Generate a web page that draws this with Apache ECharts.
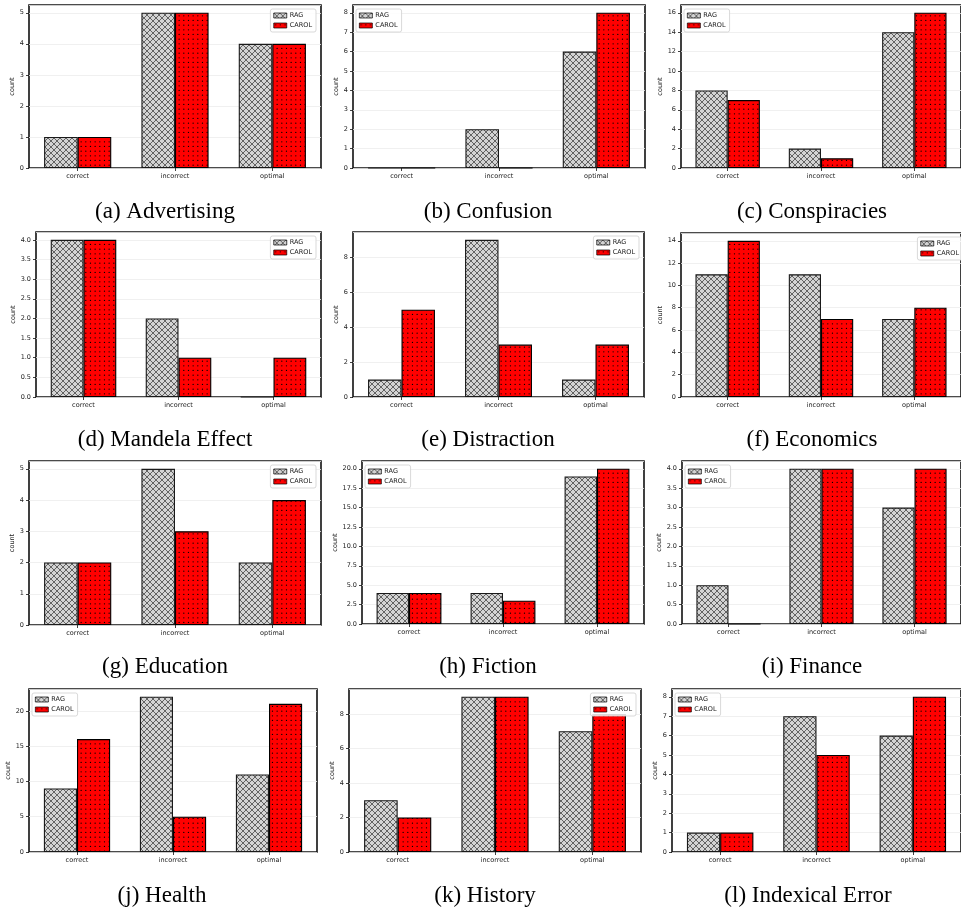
<!DOCTYPE html>
<html>
<head>
<meta charset="utf-8">
<script src="https://cdn.jsdelivr.net/npm/echarts@6/dist/echarts.min.js"></script>
<style>
  html, body { margin: 0; padding: 0; background: #fff; }
  #chart { width: 961px; height: 911px; }
</style>
</head>
<body>
<div id="chart"></div>
<script>
// Answer categories shared by every panel
const categories = ['correct', 'incorrect', 'optimal'];

// One panel per topic
const topics = [
  '(a) Advertising', '(b) Confusion', '(c) Conspiracies',
  '(d) Mandela Effect', '(e) Distraction', '(f) Economics',
  '(g) Education', '(h) Fiction', '(i) Finance',
  '(j) Health', '(k) History', '(l) Indexical Error'
];

// Counts per category (correct, incorrect, optimal)
const ragCounts = [
  [1, 5, 4], [0, 2, 6], [8, 2, 14],
  [4, 2, 0], [1, 9, 1], [11, 11, 7],
  [2, 5, 2], [4, 4, 19], [1, 4, 3],
  [9, 22, 11], [3, 9, 7], [1, 7, 6]
];
const carolCounts = [
  [1, 5, 4], [0, 0, 8], [7, 1, 16],
  [4, 1, 1], [5, 3, 3], [14, 7, 8],
  [2, 3, 4], [4, 3, 20], [0, 4, 4],
  [16, 5, 21], [2, 9, 8], [1, 5, 8]
];

// y tick spacing and label decimals per panel
const tickSteps = [1, 1, 2, 0.5, 2, 2, 1, 2.5, 0.5, 5, 2, 1];
const tickDecimals = [0, 0, 0, 1, 0, 0, 0, 1, 1, 0, 0, 0];

// which corner holds the legend
const legendSide = ['right', 'left', 'left', 'right', 'right', 'right',
                    'right', 'left', 'left', 'left', 'right', 'left'];

// plot frames: [left, top, width, height]
const frames = [
  [29, 5, 292, 163], [353, 5, 292, 163], [681, 5, 287, 163],
  [36, 232, 285, 165], [353, 232, 291, 165], [681, 233, 287, 164],
  [29, 461, 292, 164], [362, 461, 282, 163], [682, 461, 286, 163],
  [29, 689, 288, 163], [349, 689, 292, 163], [672, 689, 292, 163]
];
// distance of the "count" label from the y axis
const nameGaps = [11, 11, 16, 19, 13, 16, 11, 21, 17, 15, 11, 12];
// caption centres [x, y]
const captions = [
  [165, 212], [488, 212], [812, 212],
  [165, 440], [488, 440], [812, 440],
  [165, 667], [488, 667], [812, 667],
  [162, 896], [485, 896], [808, 896]
];

const W = 961;

// hatch fills: light gray cross-hatch and red dotted
function crossHatch() {
  const c = document.createElement('canvas');
  c.width = 6; c.height = 6;
  const g = c.getContext('2d');
  g.fillStyle = '#d3d3d3';
  g.fillRect(0, 0, 6, 6);
  g.strokeStyle = 'rgba(20,20,20,0.85)';
  g.lineWidth = 0.7;
  g.beginPath();
  g.moveTo(-1, -1); g.lineTo(7, 7);
  g.moveTo(7, -1); g.lineTo(-1, 7);
  g.stroke();
  return c;
}
function dotHatch() {
  const n = 14, step = 14 / 3;
  const c = document.createElement('canvas');
  c.width = n; c.height = n;
  const g = c.getContext('2d');
  g.fillStyle = '#ff0000';
  g.fillRect(0, 0, n, n);
  g.fillStyle = '#000';
  for (let i = 0; i < 3; i++) {
    for (let j = 0; j < 3; j++) {
      g.beginPath();
      g.arc(1.8 + i * step, 1.8 + j * step, 0.65, 0, Math.PI * 2);
      g.fill();
    }
  }
  return c;
}
const ragFill = { image: crossHatch(), repeat: 'repeat' };
const carolFill = { image: dotHatch(), repeat: 'repeat' };

const tickFont = { fontFamily: 'DejaVu Sans', fontSize: 6.5, color: '#222' };

const grid = [], xAxis = [], yAxis = [], series = [], legend = [], graphic = [];

topics.forEach((topic, i) => {
  const [l, t, w, h] = frames[i];
  grid.push({
    left: l, top: t, width: w, height: h,
    show: true, borderColor: '#111', borderWidth: 1.6, backgroundColor: '#fff',
    containLabel: false
  });
  xAxis.push({
    type: 'category', gridIndex: i, data: categories,
    axisLine: { show: false },
    axisTick: { show: true, alignWithLabel: true, length: 3, lineStyle: { color: '#111', width: 0.8 } },
    axisLabel: Object.assign({ margin: 5 }, tickFont),
    splitLine: { show: false }
  });
  const step = tickSteps[i];
  const dec = tickDecimals[i];
  const top = Math.max(...ragCounts[i], ...carolCounts[i]) * 1.05;
  yAxis.push({
    type: 'value', gridIndex: i, min: 0, max: top, interval: step,
    name: 'count', nameLocation: 'middle', nameGap: nameGaps[i], nameRotate: 90,
    nameTextStyle: { fontFamily: 'DejaVu Sans', fontSize: 6.5, color: '#222' },
    axisLine: { show: false },
    axisTick: { show: true, length: 3, lineStyle: { color: '#111', width: 0.8 } },
    axisLabel: Object.assign({
      margin: 5,
      showMaxLabel: false,
      formatter: v => {
        const k = v / step;
        return Math.abs(k - Math.round(k)) < 1e-6 ? v.toFixed(dec) : '';
      }
    }, tickFont),
    splitLine: { show: true, lineStyle: { color: '#ececec', width: 0.8 } }
  });
  series.push({
    name: 'RAG', type: 'bar', xAxisIndex: i, yAxisIndex: i,
    data: ragCounts[i], barWidth: '34.5%', barGap: '0%',
    itemStyle: { color: ragFill, borderColor: '#1a1a1a', borderWidth: 1.1 },
    emphasis: { disabled: true }, animation: false
  });
  series.push({
    name: 'CAROL', type: 'bar', xAxisIndex: i, yAxisIndex: i,
    data: carolCounts[i], barWidth: '34.5%', barGap: '0%',
    itemStyle: { color: carolFill, borderColor: '#000', borderWidth: 1.1 },
    emphasis: { disabled: true }, animation: false
  });
  const lg = {
    data: ['RAG', 'CAROL'], orient: 'vertical', top: t + 4,
    icon: 'rect', itemWidth: 13, itemHeight: 5, itemGap: 3,
    padding: [3, 4, 3, 3],
    itemStyle: { borderWidth: 0.7, borderColor: '#000' },
    backgroundColor: 'rgba(255,255,255,0.85)', borderColor: '#cfcfcf',
    borderWidth: 0.8, borderRadius: 2, selectedMode: false,
    textStyle: { fontFamily: 'DejaVu Sans', fontSize: 6.5, color: '#222', padding: [0, 0, 0, -2] }
  };
  if (legendSide[i] === 'left') lg.left = l + 3;
  else lg.right = W - (l + w - 5);
  legend.push(lg);
  graphic.push({
    type: 'text', x: captions[i][0], y: captions[i][1], silent: true,
    style: {
      text: topic, fill: '#000', align: 'center', verticalAlign: 'middle',
      font: '23px "Liberation Serif", "Times New Roman", serif'
    }
  });
});

const chart = echarts.init(document.getElementById('chart'), null, { renderer: 'canvas' });
chart.setOption({
  backgroundColor: '#fff',
  animation: false,
  grid, xAxis, yAxis, series, legend, graphic
});
</script>
</body>
</html>
